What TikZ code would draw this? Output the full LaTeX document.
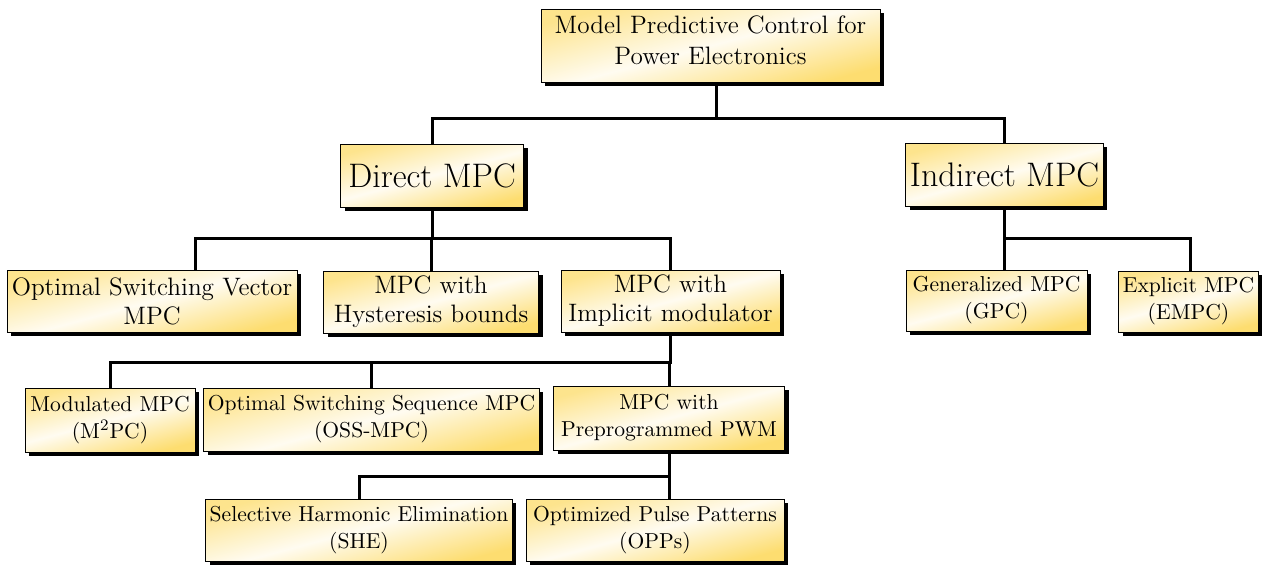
\documentclass[tikz,border=0pt]{standalone}
\usetikzlibrary{shadows}
\definecolor{boxgold}{RGB}{253,221,112}

\begin{document}
\begin{tikzpicture}[x = 0.5pt, y = -0.5pt]
\tikzstyle{Box}=[draw, line width = 0.5pt, align = center, inner sep = 2pt,
top color = boxgold!80, bottom color = boxgold, middle color = boxgold!10, shading angle = 15,
drop shadow = {fill = black, opacity = 1, shadow xshift = 2pt, shadow yshift = -2pt}]
\tikzstyle{Link}=[line width = 1.5pt]
\tikzstyle{TopFont}=[font = \fontsize{12.6}{15.5}\selectfont]
\tikzstyle{BigFont}=[font = \fontsize{17}{20}\selectfont]
\tikzstyle{MidFont}=[font = \fontsize{12.6}{14.5}\selectfont]
\tikzstyle{SmallFont}=[font = \fontsize{10.8}{13.5}\selectfont]
\useasboundingbox (0,0) rectangle (1264,564);
\node[Box, TopFont, minimum width = 169.5pt, minimum height = 36.5pt, text depth = 5pt] (root) at (710.5, 45.5) {Model Predictive Control for\\ Power Electronics};
\node[Box, BigFont, minimum width = 91.5pt, minimum height = 31.5pt] (direct) at (432, 175.5) {Direct MPC};
\node[Box, BigFont, minimum width = 98.5pt, minimum height = 31.5pt] (indirect) at (1004.5, 174.5) {Indirect MPC};
\node[Box, MidFont, minimum width = 145pt, minimum height = 31pt] (osv) at (152, 301) {Optimal Switching Vector\\ MPC};
\node[Box, MidFont, minimum width = 107.5pt, minimum height = 31pt] (hyst) at (431, 302) {MPC with\\ Hysteresis bounds};
\node[Box, MidFont, minimum width = 109.5pt, minimum height = 31pt] (implicit) at (670.5, 301) {MPC with\\ Implicit modulator};
\node[Box, SmallFont, minimum width = 90.5pt, minimum height = 30.5pt] (gpc) at (996.5, 300.5) {Generalized MPC\\ (GPC)};
\node[Box, SmallFont, minimum width = 69.5pt, minimum height = 30.5pt] (empc) at (1188.5, 301.5) {Explicit MPC\\ (EMPC)};
\node[Box, SmallFont, minimum width = 85pt, minimum height = 32pt] (mod) at (110, 420) {Modulated MPC\\ (M$^2$PC)};
\node[Box, SmallFont, minimum width = 165.5pt, minimum height = 31.5pt] (oss) at (371.5, 419.5) {Optimal Switching Sequence MPC\\ (OSS-MPC)};
\node[Box, SmallFont, minimum width = 115.5pt, minimum height = 32pt] (prepro) at (669, 418) {MPC with\\ Preprogrammed PWM};
\node[Box, SmallFont, minimum width = 152pt, minimum height = 31pt] (she) at (359, 530) {Selective Harmonic Elimination\\ (SHE)};
\node[Box, SmallFont, minimum width = 129pt, minimum height = 31pt] (opp) at (655, 530) {Optimized Pulse Patterns\\ (OPPs)};
\draw[Link] ([xshift = 2.75pt]root.south) -- ++(0,36) -| (direct.north);
\draw[Link] ([xshift = 2.75pt]root.south) -- ++(0,36) -| (indirect.north);
\draw[Link] (direct.south) -- ++(0,31) -| ([xshift = 21.5pt]osv.north);
\draw[Link] (direct.south) -- ++(0,31) -| (hyst.north);
\draw[Link] (direct.south) -- ++(0,31) -| (implicit.north);
\draw[Link] (indirect.south) -- ++(0,32) -| ([xshift = 4pt]gpc.north);
\draw[Link] (indirect.south) -- ++(0,32) -| ([xshift = 1pt]empc.north);
\draw[Link] (implicit.south) -- ++(0,30) -| (mod.north);
\draw[Link] (implicit.south) -- ++(0,30) -| (oss.north);
\draw[Link] (implicit.south) -- ++(0,30) -| (prepro.north);
\draw[Link] (prepro.south) -- ++(0,26) -| (she.north);
\draw[Link] (prepro.south) -- ++(0,26) -| ([xshift = 7pt]opp.north);
\end{tikzpicture}
\end{document}
